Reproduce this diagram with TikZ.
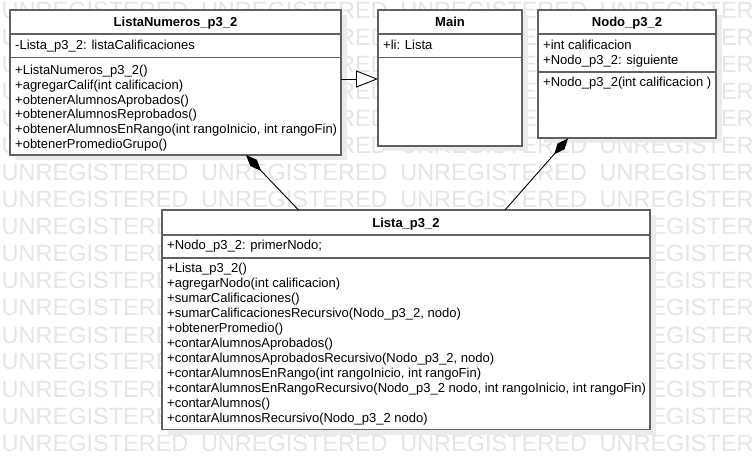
\documentclass[tikz,border=0pt]{standalone}
\usepackage{fontspec}
\setmainfont{Liberation Sans}
\usetikzlibrary{arrows.meta}
\definecolor{wm}{gray}{0.9}
\definecolor{shd}{gray}{0.92}
\definecolor{bord}{gray}{0.38}
\tikzset{
  umlbox/.style={draw=bord, line width=1.4pt, fill=white, rectangle, inner sep=0pt, outer sep=0pt, anchor=north west},
  sepline/.style={draw=bord, line width=1.4pt},
  shadowfill/.style={fill=shd},
  txt/.style={anchor=base west, inner sep=0pt, font=\fontsize{13}{15}\selectfont},
  ttl/.style={anchor=base, inner sep=0pt, font=\fontsize{13}{15}\selectfont\bfseries},
  wmark/.style={anchor=base west, inner sep=0pt, text=wm, font=\fontsize{23.5}{26}\selectfont},
  conn/.style={draw=black, line width=0.9pt},
}
\begin{document}
\begin{tikzpicture}[x=1pt,y=-1pt]
\useasboundingbox (0,0) rectangle (755,470);
\fill[white] (0,0) rectangle (755,470);
% watermark
\foreach \r in {0,...,16} {
  \foreach \c in {0,1,2,3} {
    \node[wmark] (wm-\r-\c) at ({1.5+199.3*\c},{451-27*\r}) {UNREGISTERED};
  }
}
% shadows
\fill[shadowfill] (15.5,15.5) rectangle (346.5,160.5);
\fill[shadowfill] (383.5,15.5) rectangle (527.5,151.5);
\fill[shadowfill] (543.5,15.5) rectangle (721.5,143.5);
\fill[shadowfill] (167.5,215.5) rectangle (655.5,435);
% boxes
\node[umlbox, minimum width=331pt, minimum height=145pt] (LN) at (10,10) {};
\node[umlbox, minimum width=144pt, minimum height=136pt] (MN) at (378,10) {};
\node[umlbox, minimum width=178pt, minimum height=128pt] (ND) at (538,10) {};
\node[umlbox, minimum width=488pt, minimum height=219.5pt] (LS) at (162,210) {};
% separators
\draw[sepline] (10,34) -- (341,34);
\draw[sepline] (10,57.5) -- (341,57.5);
\draw[sepline] (378,34) -- (522,34);
\draw[sepline] (378,57.5) -- (522,57.5);
\draw[sepline] (538,34) -- (716,34);
\draw[sepline] (538,72) -- (716,72);
\draw[sepline] (162,235) -- (650,235);
\draw[sepline] (162,258) -- (650,258);
% ListaNumeros_p3_2
\node[ttl] (LNt) at (175.5,27) {ListaNumeros\_p3\_2};
\node[txt] (LNa) at (15,50) {-Lista\_p3\_2: listaCalificaciones};
\foreach \t [count=\i from 0] in {
  {+ListaNumeros\_p3\_2()},
  {+agregarCalif(int calificacion)},
  {+obtenerAlumnosAprobados()},
  {+obtenerAlumnosReprobados()},
  {+obtenerAlumnosEnRango(int rangoInicio, int rangoFin)},
  {+obtenerPromedioGrupo()}} {
  \node[txt] (LNm\i) at (15,{74.5+14.8*\i}) {\t};
}
% Main
\node[ttl] (MNt) at (450,27) {Main};
\node[txt] (MNa) at (383,50) {+li: Lista};
% Nodo_p3_2
\node[ttl] (NDt) at (627,27) {Nodo\_p3\_2};
\node[txt] (NDa1) at (543,49.5) {+int calificacion};
\node[txt] (NDa2) at (543,65) {+Nodo\_p3\_2: siguiente};
\node[txt] (NDm) at (543,87) {+Nodo\_p3\_2(int calificacion )};
% Lista_p3_2
\node[ttl] (LSt) at (406,227.5) {Lista\_p3\_2};
\node[txt] (LSa) at (167,250) {+Nodo\_p3\_2: primerNodo;};
\foreach \t [count=\i from 0] in {
  {+Lista\_p3\_2()},
  {+agregarNodo(int calificacion)},
  {+sumarCalificaciones()},
  {+sumarCalificacionesRecursivo(Nodo\_p3\_2, nodo)},
  {+obtenerPromedio()},
  {+contarAlumnosAprobados()},
  {+contarAlumnosAprobadosRecursivo(Nodo\_p3\_2, nodo)},
  {+contarAlumnosEnRango(int rangoInicio, int rangoFin)},
  {+contarAlumnosEnRangoRecursivo(Nodo\_p3\_2 nodo, int rangoInicio, int rangoFin)},
  {+contarAlumnos()},
  {+contarAlumnosRecursivo(Nodo\_p3\_2 nodo)}} {
  \node[txt] (LSm\i) at (167,{272.8+14.95*\i}) {\t};
}
% connectors
\coordinate (g1) at (341,79);
\coordinate (g2) at (378,79);
\draw[conn, -{Triangle[fill=white, length=22pt, width=17pt]}] (g1) -- (g2);
\coordinate (d1) at (246,155);
\coordinate (d1e) at (298.5,210);
\draw[conn, {Diamond[length=22pt, width=9pt]}-] (d1) -- (d1e);
\coordinate (d2) at (568,138.5);
\coordinate (d2e) at (505,210);
\draw[conn, {Diamond[length=21pt, width=9pt]}-] (d2) -- (d2e);
\end{tikzpicture}
\end{document}
